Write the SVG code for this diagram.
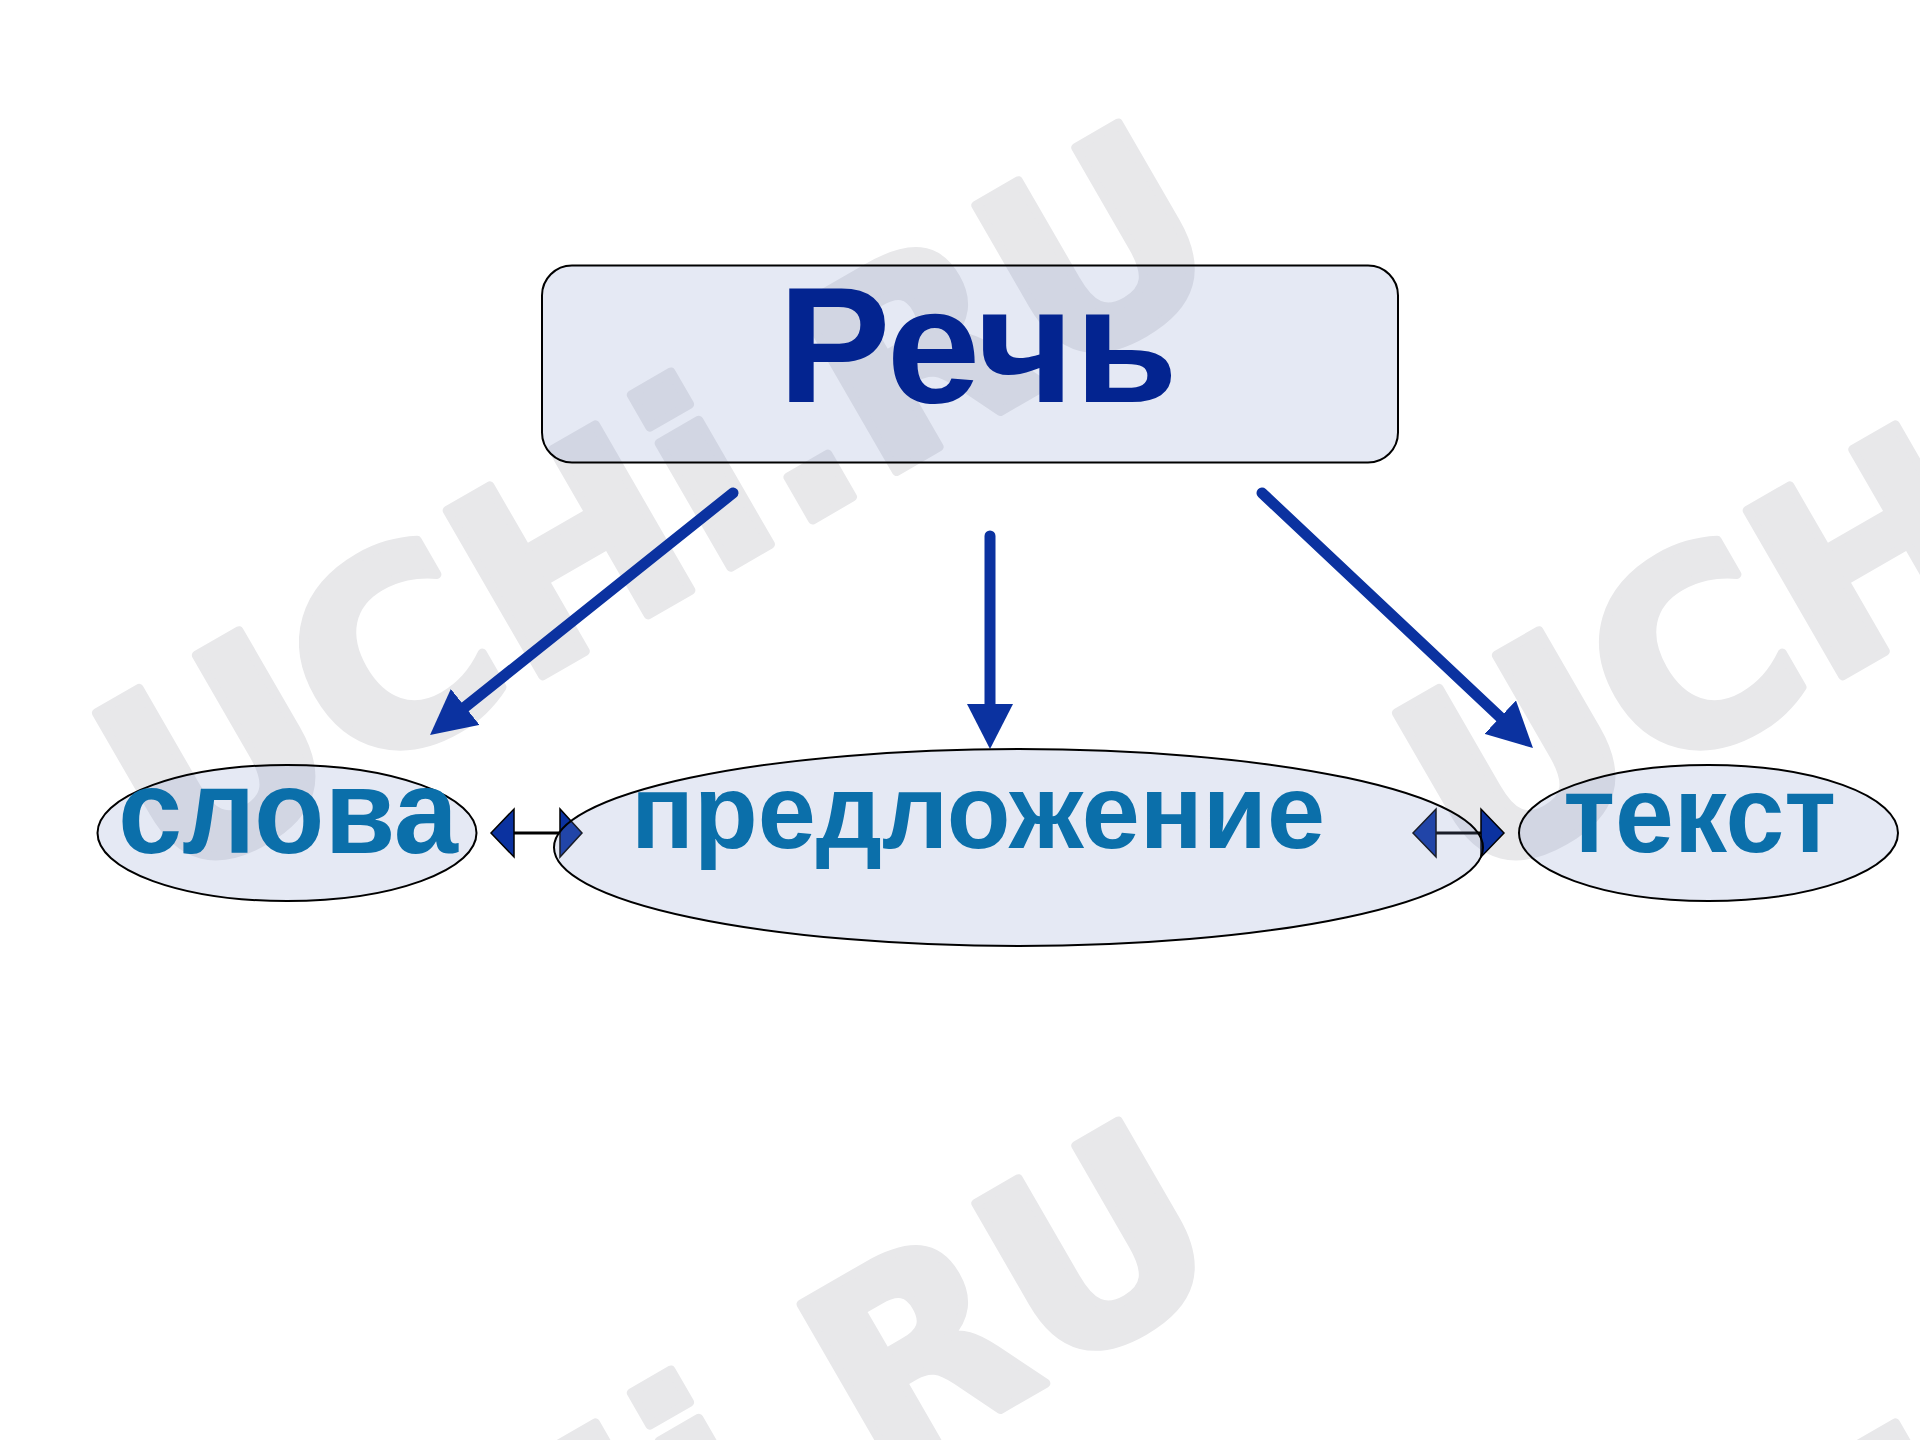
<svg xmlns="http://www.w3.org/2000/svg" xmlns:xlink="http://www.w3.org/1999/xlink" width="1920" height="1440" viewBox="0 0 1920 1440">
  <style>
    .wm { font-family: "DejaVu Sans", "Liberation Sans", sans-serif; font-weight: bold; font-size: 262px; fill: #e8e8ea; stroke: #e8e8ea; stroke-width: 9; stroke-linejoin: round; }
    .node { fill: #7d91c8; fill-opacity: 0.2; stroke: #000000; stroke-width: 2; }
    .title { font-family: "Liberation Sans", Arial, sans-serif; font-weight: bold; fill: #032490; }
    .label { font-family: "Liberation Sans", Arial, sans-serif; font-weight: bold; fill: #0b6faa; }
    .arrow { stroke: #0b32a0; stroke-width: 11; stroke-linecap: round; fill: none; }
    .dline { stroke: #000000; stroke-width: 3; fill: none; }
    .dhead { fill: #0b32a0; stroke: #000000; stroke-width: 1.5; stroke-linejoin: miter; }
  </style>
  <defs>
    <marker id="head" viewBox="0 0 45 46" markerWidth="45" markerHeight="46" markerUnits="userSpaceOnUse" refX="0" refY="23" orient="auto">
      <path d="M0,0 L45,23 L0,46 Z" fill="#0b32a0"/>
    </marker>
    <g id="wm">
      <g transform="translate(758,555) rotate(-30)">
        <text class="wm" x="-676" y="-3">UCHi.RU</text>
      </g>
    </g>
  </defs>

  <rect x="0" y="0" width="1920" height="1440" fill="#ffffff"/>

  <g id="watermark">
    <use xlink:href="#wm" href="#wm"/>
    <use xlink:href="#wm" href="#wm" transform="translate(1300,0)"/>
    <use xlink:href="#wm" href="#wm" transform="translate(0,998)"/>
    <use xlink:href="#wm" href="#wm" transform="translate(1300,998)"/>
  </g>

  <g id="connectors">
    <line class="arrow" x1="733" y1="493" x2="465.2" y2="706.9" marker-end="url(#head)"/>
    <line class="arrow" x1="990" y1="536" x2="990" y2="704" marker-end="url(#head)"/>
    <line class="arrow" x1="1262" y1="493" x2="1500.2" y2="717.2" marker-end="url(#head)"/>

    <g id="link-slova-predlozhenie">
      <line class="dline" x1="514" y1="833" x2="560" y2="833"/>
      <polygon class="dhead" points="491,833 514,809 514,857"/>
      <polygon class="dhead" points="582,833 560,809 560,857"/>
    </g>
    <g id="link-predlozhenie-tekst">
      <line class="dline" x1="1436" y1="833" x2="1481" y2="833"/>
      <polygon class="dhead" points="1413,833 1436,809 1436,857"/>
      <polygon class="dhead" points="1504,833 1481,809 1481,857"/>
    </g>
  </g>

  <g id="node-rech">
    <rect class="node" x="542" y="265.5" width="856" height="197" rx="30" ry="30"/>
    <text class="title" x="978" y="401.5" font-size="165" text-anchor="middle" textLength="400" lengthAdjust="spacingAndGlyphs">Речь</text>
  </g>

  <g id="node-slova">
    <ellipse class="node" cx="287" cy="833" rx="189.5" ry="68"/>
    <text class="label" x="288" y="853" font-size="121" text-anchor="middle" textLength="340" lengthAdjust="spacingAndGlyphs">слова</text>
  </g>

  <g id="node-predlozhenie">
    <ellipse class="node" cx="1018.5" cy="847.5" rx="464.5" ry="98.5"/>
    <text class="label" x="978" y="848.3" font-size="106" text-anchor="middle" textLength="694" lengthAdjust="spacingAndGlyphs">предложение</text>
  </g>

  <g id="node-tekst">
    <ellipse class="node" cx="1708.5" cy="833" rx="189.5" ry="68"/>
    <text class="label" x="1699.7" y="851.7" font-size="110" text-anchor="middle" textLength="273" lengthAdjust="spacingAndGlyphs">текст</text>
  </g>
</svg>
